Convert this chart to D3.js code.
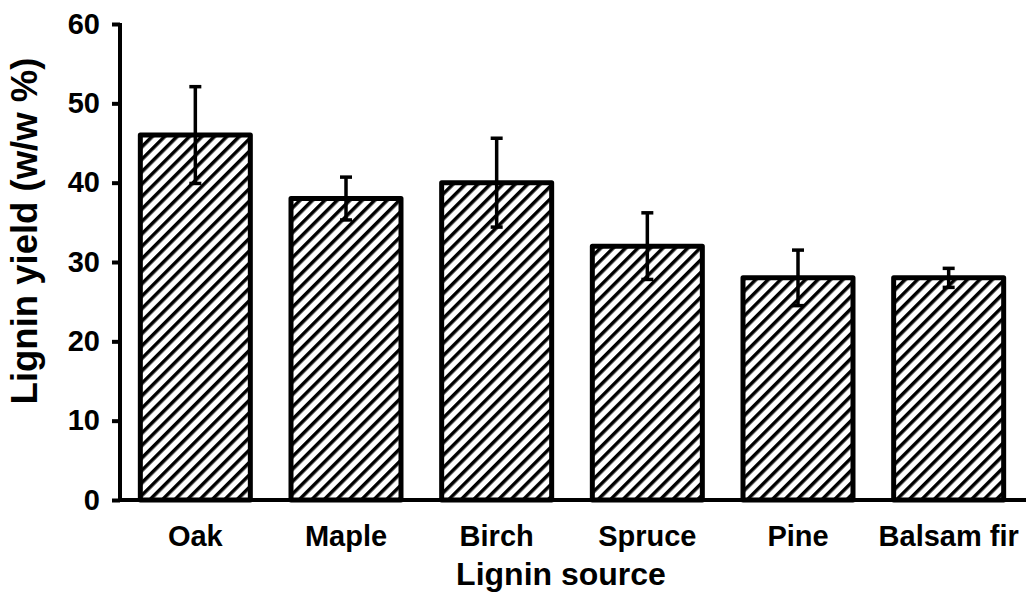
<!DOCTYPE html>
<html><head><meta charset="utf-8">
<script src="https://cdn.jsdelivr.net/npm/d3@7"></script>
<style>html,body{margin:0;padding:0;background:#fff;}svg{display:block;}</style>
</head><body>
<script>
const categories = ["Oak", "Maple", "Birch", "Spruce", "Pine", "Balsam fir"];
const values = [46, 38, 40, 32, 28, 28];
const errors = [6.1, 2.7, 5.6, 4.2, 3.5, 1.2];
const yTicks = [0, 10, 20, 30, 40, 50, 60];
const xTitle = "Lignin source";
const yTitle = "Lignin yield (w/w %)";

const W = 1026, H = 596;
const svg = d3.select("body").append("svg").attr("width", W).attr("height", H);
const font = "'Liberation Sans', Arial, sans-serif";

const P = 8.8;
const defs = svg.append("defs");
const pat = defs.append("pattern").attr("id", "hatch").attr("patternUnits", "userSpaceOnUse")
  .attr("width", P).attr("height", P).attr("patternTransform", "rotate(45)");
pat.append("rect").attr("width", P).attr("height", P).attr("fill", "#fff");
pat.append("line").attr("x1", 0).attr("y1", 0).attr("x2", 0).attr("y2", P)
  .attr("stroke", "#000").attr("stroke-width", 7);

const x = d3.scaleBand().domain(categories).range([120, 1024]).paddingInner(0.25).paddingOuter(0.125);
const y = d3.scaleLinear().domain([0, 60]).range([500, 24]);

const sw = 5;
svg.append("g").selectAll("rect").data(categories).join("rect")
  .attr("x", d => x(d) + sw / 2 - 1)
  .attr("width", x.bandwidth() - sw + 2)
  .attr("y", (d, i) => y(values[i]))
  .attr("height", (d, i) => y(0) - y(values[i]))
  .attr("fill", "url(#hatch)")
  .attr("stroke", "#000").attr("stroke-width", sw).attr("stroke-linejoin", "round");

const eg = svg.append("g").attr("stroke", "#000").attr("stroke-width", 3.5);
categories.forEach((c, i) => {
  const cx = x(c) + x.bandwidth() / 2;
  eg.append("line").attr("x1", cx).attr("x2", cx)
    .attr("y1", y(values[i] - errors[i])).attr("y2", y(values[i] + errors[i]));
  eg.append("line").attr("x1", cx - 6).attr("x2", cx + 6)
    .attr("y1", y(values[i] + errors[i])).attr("y2", y(values[i] + errors[i]));
  eg.append("line").attr("x1", cx - 6).attr("x2", cx + 6)
    .attr("y1", y(values[i] - errors[i])).attr("y2", y(values[i] - errors[i]));
});

const yAxis = svg.append("g").attr("transform", "translate(120,0)")
  .call(d3.axisLeft(y).tickValues(yTicks).tickSize(8).tickPadding(12).tickSizeOuter(0));
yAxis.select(".domain").attr("stroke-width", 4).attr("d", `M0,${y(60) - 1}V${y(0) + 2}`);
yAxis.selectAll(".tick line").attr("stroke-width", 4);
yAxis.selectAll("text").attr("font-family", font).attr("font-weight", "bold")
  .attr("font-size", 29).attr("fill", "#000");

const xAxis = svg.append("g").attr("transform", "translate(0,500)")
  .call(d3.axisBottom(x).tickSize(0).tickPadding(25).tickSizeOuter(0));
xAxis.select(".domain").attr("stroke-width", 4).attr("d", "M118,0H1026");
xAxis.selectAll("text").attr("font-family", font).attr("font-weight", "bold")
  .attr("font-size", 29).attr("fill", "#000");

svg.append("text").attr("x", 561).attr("y", 585).attr("text-anchor", "middle")
  .attr("font-family", font).attr("font-weight", "bold").attr("font-size", 32).text(xTitle);
svg.append("text").attr("transform", "translate(37,231) rotate(-90)").attr("text-anchor", "middle")
  .attr("font-family", font).attr("font-weight", "bold").attr("font-size", 36.5).text(yTitle);
</script>
</body></html>
